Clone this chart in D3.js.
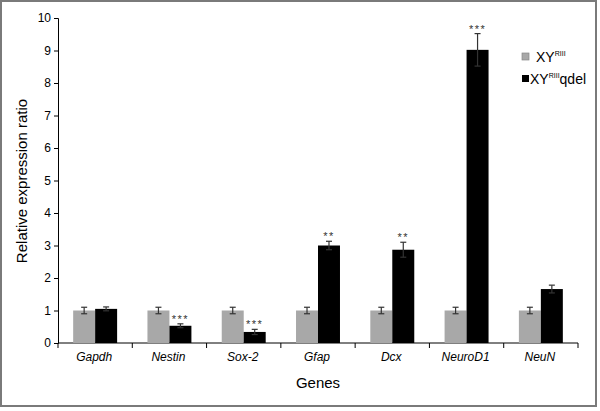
<!DOCTYPE html>
<html>
<head>
<meta charset="utf-8">
<script src="https://cdn.jsdelivr.net/npm/d3@7"></script>
<style>
  body { margin: 0; background: #fff; }
  svg { display: block; font-family: "Liberation Sans", Arial, sans-serif; }
</style>
</head>
<body>
<div id="chart"></div>
<script>
// data
var genes = ["Gapdh", "Nestin", "Sox-2", "Gfap", "Dcx", "NeuroD1", "NeuN"];
var wtMean = [1, 1, 1, 1, 1, 1, 1];
var wtErr = [0.1, 0.1, 0.1, 0.1, 0.1, 0.1, 0.1];
var delMean = [1.05, 0.53, 0.34, 3.0, 2.87, 9.02, 1.66];
var delErr = [0.06, 0.06, 0.08, 0.13, 0.23, 0.5, 0.12];
var stars = ["", "***", "***", "**", "**", "***", ""];
var yTicks = [0, 1, 2, 3, 4, 5, 6, 7, 8, 9, 10];

var svgWidth = 600;
var svgHeight = 411;

var svg = d3.select("#chart")
  .append("svg")
  .attr("width", svgWidth)
  .attr("height", svgHeight);

// outer frame
svg.append("rect")
  .attr("x", 1).attr("y", 1)
  .attr("width", 595).attr("height", 405)
  .attr("fill", "#fff")
  .attr("stroke", "#7a7a7a")
  .attr("stroke-width", 2);

var rows = genes.map(function(g, i) {
  return {gene: g, wt: wtMean[i], wtE: wtErr[i], del: delMean[i], delE: delErr[i], sig: stars[i]};
});

var x = d3.scaleBand().domain(genes).range([58, 578]);
var xSub = d3.scaleBand().domain(["wt", "del"]).range([0, x.bandwidth()]).paddingInner(0).paddingOuter(0.69);
var y = d3.scaleLinear().domain([0, 10]).range([343, 18]);

// axes
var leftAxis = d3.axisLeft(y).tickValues(yTicks).tickSize(4).tickPadding(3);
var gy = svg.append("g").attr("transform", "translate(58,0)").call(leftAxis);
gy.selectAll("text").attr("font-size", 12).attr("fill", "#000").attr("font-family", "Liberation Sans, Arial, sans-serif");
gy.selectAll("line, path").attr("stroke", "#000");

// bottom axis: ticks at category boundaries
svg.append("line")
  .attr("x1", 58).attr("x2", 578)
  .attr("y1", y(0)).attr("y2", y(0))
  .attr("stroke", "#000");
var bounds = genes.map(function(g) { return x(g); }).concat([x(genes[genes.length - 1]) + x.bandwidth()]);
svg.selectAll(".xtick")
  .data(bounds)
  .enter()
  .append("line")
  .attr("class", "xtick")
  .attr("x1", d => d).attr("x2", d => d)
  .attr("y1", y(0)).attr("y2", y(0) + 5)
  .attr("stroke", "#000");
svg.selectAll(".xlab")
  .data(genes)
  .enter()
  .append("text")
  .attr("class", "xlab")
  .attr("x", d => x(d) + x.bandwidth() / 2 - 1)
  .attr("y", 361)
  .attr("text-anchor", "middle")
  .attr("font-size", 12)
  .attr("font-style", "italic")
  .text(d => d);

// bars
var groups = svg.selectAll(".grp")
  .data(rows)
  .enter()
  .append("g")
  .attr("class", "grp")
  .attr("transform", d => `translate(${x(d.gene)},0)`);

groups.append("rect")
  .attr("x", xSub("wt"))
  .attr("y", d => y(d.wt))
  .attr("width", xSub.bandwidth())
  .attr("height", d => y(0) - y(d.wt))
  .attr("fill", "#a8a8a8");

groups.append("rect")
  .attr("x", xSub("del"))
  .attr("y", d => y(d.del))
  .attr("width", xSub.bandwidth())
  .attr("height", d => y(0) - y(d.del))
  .attr("fill", "#000");

// error bars
function errBar(sel, key, errKey) {
  var cx = xSub(key) + xSub.bandwidth() / 2;
  sel.append("line")
    .attr("x1", cx).attr("x2", cx)
    .attr("y1", d => y(d[key] - d[errKey])).attr("y2", d => y(d[key] + d[errKey]))
    .attr("stroke", "#333").attr("stroke-width", 1.2);
  sel.append("line")
    .attr("x1", cx - 3).attr("x2", cx + 3)
    .attr("y1", d => y(d[key] + d[errKey])).attr("y2", d => y(d[key] + d[errKey]))
    .attr("stroke", "#333").attr("stroke-width", 1.2);
  sel.append("line")
    .attr("x1", cx - 3).attr("x2", cx + 3)
    .attr("y1", d => y(d[key] - d[errKey])).attr("y2", d => y(d[key] - d[errKey]))
    .attr("stroke", "#333").attr("stroke-width", 1.2);
}
errBar(groups, "wt", "wtE");
errBar(groups, "del", "delE");

// significance stars
groups.append("text")
  .attr("x", xSub("del") + xSub.bandwidth() / 2)
  .attr("y", d => y(d.del + d.delE) - 1)
  .attr("text-anchor", "middle")
  .attr("font-size", 11)
  .attr("letter-spacing", 1.5)
  .attr("fill", "#333")
  .text(d => d.sig);

// axis titles
svg.append("text")
  .attr("transform", "translate(27,181) rotate(-90)")
  .attr("text-anchor", "middle")
  .attr("font-size", 15)
  .text("Relative expression ratio");

svg.append("text")
  .attr("x", 318)
  .attr("y", 388)
  .attr("text-anchor", "middle")
  .attr("font-size", 15)
  .text("Genes");

// legend
var legend = [
  {color: "#a8a8a8", suffix: "", y: 62},
  {color: "#000", suffix: "qdel", y: 84}
];
var lg = svg.selectAll(".leg")
  .data(legend)
  .enter()
  .append("g")
  .attr("class", "leg");
lg.append("rect")
  .attr("x", 522)
  .attr("y", d => d.y - 9)
  .attr("width", 7).attr("height", 7)
  .attr("fill", d => d.color)
  .attr("stroke", d => d.suffix ? "none" : "#888")
  .attr("stroke-width", 0.7);
var lt = lg.append("text")
  .attr("x", (d, i) => i === 0 ? 536 : 530)
  .attr("y", d => d.y)
  .attr("font-size", 14);
lt.append("tspan").text("XY");
lt.append("tspan").attr("font-size", 7).attr("dy", -6).text("RIII");
lt.append("tspan").attr("dy", 6).text(d => d.suffix);
</script>
</body>
</html>
